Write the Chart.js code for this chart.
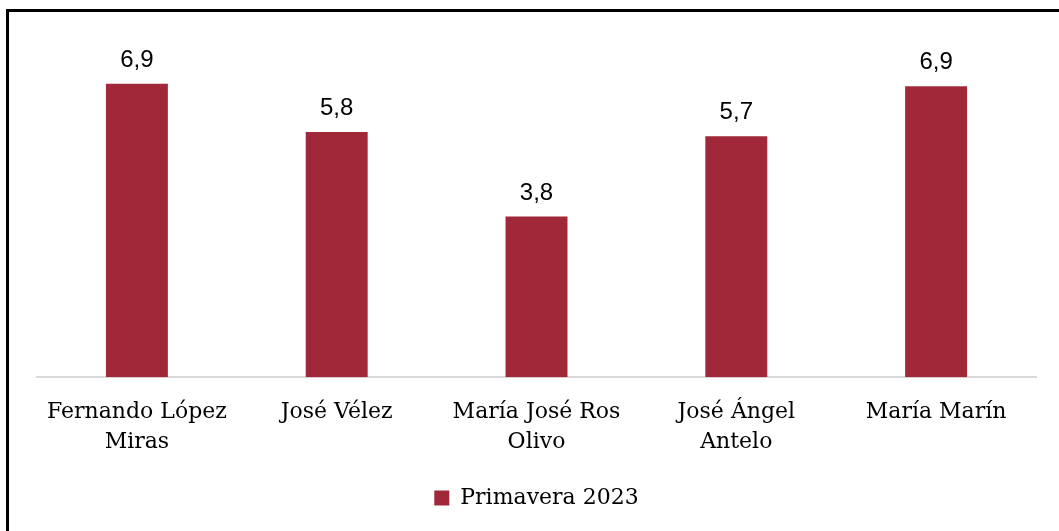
<!DOCTYPE html>
<html>
<head>
<meta charset="utf-8">
<script src="https://cdn.jsdelivr.net/npm/chart.js@4.4.0/dist/chart.umd.min.js"></script>
<style>
  html, body { margin: 0; padding: 0; background: #fff; }
  #wrap { position: relative; width: 1059px; height: 531px; }
</style>
</head>
<body>
<div id="wrap"><canvas id="barChart" width="1059" height="531"></canvas></div>
<script>
// Chart data
const categories = [
    ['Fernando López', 'Miras'],
    'José Vélez',
    ['María José Ros', 'Olivo'],
    ['José Ángel', 'Antelo'],
    'María Marín'
];
const seriesName = 'Primavera 2023';
const seriesValues = [6.94, 5.8, 3.8, 5.7, 6.88];
const barColor = '#A02838';

// Frame lines (top and left only are visible in the picture)
const framePlugin = {
    id: 'frame',
    beforeDraw(chart) {
        const ctx = chart.ctx;
        ctx.save();
        ctx.fillStyle = '#000';
        ctx.fillRect(6, 9, 3, chart.height);
        ctx.fillRect(6, 9, chart.width, 3);
        ctx.restore();
    }
};

// Value labels above bars
const valueLabels = {
    id: 'valueLabels',
    afterDatasetsDraw(chart) {
        const ctx = chart.ctx;
        ctx.save();
        ctx.font = '24px "Liberation Sans", Arial, sans-serif';
        ctx.fillStyle = '#000';
        ctx.textAlign = 'center';
        ctx.textBaseline = 'alphabetic';
        chart.getDatasetMeta(0).data.forEach((bar, i) => {
            const txt = seriesValues[i].toFixed(1).replace('.', ',');
            ctx.fillText(txt, bar.x, bar.y - 17);
        });
        ctx.restore();
    }
};

const ctx = document.getElementById('barChart');
new Chart(ctx, {
    type: 'bar',
    data: {
        labels: categories,
        datasets: [{
            label: seriesName,
            data: seriesValues,
            backgroundColor: barColor,
            categoryPercentage: 1,
            barPercentage: 0.31
        }]
    },
    options: {
        responsive: false,
        animation: false,
        layout: { padding: { left: 37, right: 23, top: 39, bottom: 12 } },
        plugins: {
            legend: {
                position: 'bottom',
                labels: {
                    boxWidth: 15,
                    boxHeight: 15,
                    color: '#000',
                    padding: 8,
                    font: { family: '"DejaVu Serif", "Liberation Serif", serif', size: 22 }
                }
            },
            tooltip: { enabled: false }
        },
        scales: {
            x: {
                grid: { display: false },
                border: { display: true, color: '#d9d9d9', width: 2 },
                ticks: {
                    color: '#000',
                    padding: 12,
                    maxRotation: 0,
                    font: { family: '"DejaVu Serif", "Liberation Serif", serif', size: 22, lineHeight: 1.36 }
                },
                afterFit(scale) {
                    scale.height += 10;
                }
            },
            y: {
                display: false,
                min: 0,
                max: 8
            }
        }
    },
    plugins: [framePlugin, valueLabels]
});
</script>
</body>
</html>
